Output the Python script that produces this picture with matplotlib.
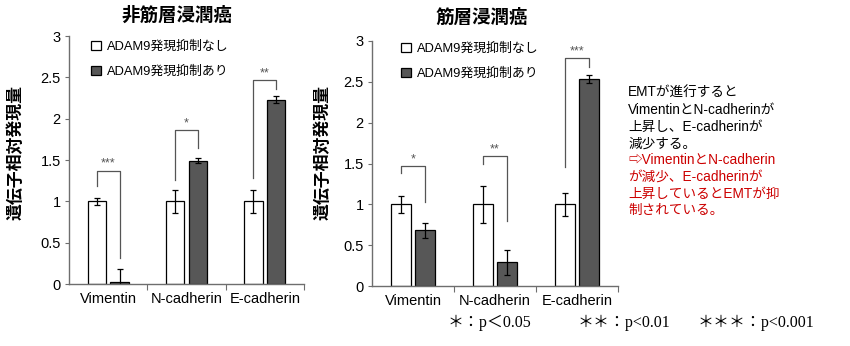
import numpy as np
import matplotlib.pyplot as plt
from matplotlib.patches import Patch

plt.rcParams['font.family'] = ['Liberation Sans', 'Noto Sans CJK JP', 'DejaVu Sans']

categories = ['Vimentin', 'N-cadherin', 'E-cadherin']
series_names = ['ADAM9発現抑制なし', 'ADAM9発現抑制あり']

# 非筋層浸潤癌
nmibc_ctrl = [1.0, 1.0, 1.0]
nmibc_ctrl_err = [0.04, 0.14, 0.14]
nmibc_kd = [0.03, 1.49, 2.23]
nmibc_kd_err = [0.15, 0.03, 0.045]
nmibc_sig = ['***', '*', '**']
nmibc_br_top = [1.37, 1.86, 2.47]
nmibc_br_left = [1.18, 1.26, 1.28]
nmibc_br_right = [0.31, 1.64, 2.36]

# 筋層浸潤癌
mibc_ctrl = [1.0, 1.0, 1.0]
mibc_ctrl_err = [0.10, 0.23, 0.14]
mibc_kd = [0.68, 0.29, 2.53]
mibc_kd_err = [0.09, 0.15, 0.05]
mibc_sig = ['*', '**', '***']
mibc_br_top = [1.47, 1.59, 2.79]
mibc_br_left = [1.38, 1.49, 1.46]
mibc_br_right = [1.03, 0.79, 2.68]

yticks = [0, 0.5, 1, 1.5, 2, 2.5, 3]
ytick_labels = ['0', '0.5', '1', '1.5', '2', '2.5', '3']

note_black = ['EMTが進行すると', 'VimentinとN-cadherinが', '上昇し、E-cadherinが', '減少する。']
note_red = ['⇨VimentinとN-cadherin', 'が減少、E-cadherinが', '上昇しているとEMTが抑', '制されている。']
footnotes = ['＊：p＜0.05', '＊＊：p<0.01', '＊＊＊：p<0.001']

W, H = 850, 346
fig = plt.figure(figsize=(8.5, 3.46), dpi=100)

DARK = '#575757'
SPINE = '#6e6e6e'


def px(x, y):
    return x / W, 1 - y / H


def panel(rect, title, title_xy, ylab_xy, leg_xy, ctrl, ctrl_err, kd, kd_err,
          sig, br_top, br_left, br_right):
    ax = fig.add_axes(rect)
    x = np.arange(len(categories))
    off, bw = 0.145, 0.235
    ax.bar(x - off, ctrl, bw, color='white', edgecolor='black', linewidth=0.9,
           yerr=ctrl_err, error_kw=dict(ecolor='black', elinewidth=0.9, capsize=2.5, capthick=0.9))
    ax.bar(x + off, kd, bw, color=DARK, edgecolor='black', linewidth=0.9,
           yerr=kd_err, error_kw=dict(ecolor='black', elinewidth=0.9, capsize=2.5, capthick=0.9))
    for i in range(len(categories)):
        xl, xr = x[i] - off, x[i] + off
        ax.plot([xl, xl, xr, xr], [br_left[i], br_top[i], br_top[i], br_right[i]],
                color='#555555', lw=0.9, clip_on=False)
        ax.text(x[i], br_top[i] + 0.01, sig[i], ha='center', va='bottom',
                fontsize=9, color='#555555')
    ax.set_xlim(-0.5, 2.5)
    ax.set_ylim(0, 3)
    ax.set_yticks(yticks)
    ax.set_yticklabels(ytick_labels, fontsize=10.5)
    ax.set_xticks([0.5, 1.5, 2.5])
    ax.set_xticklabels([])
    ax.set_xticks(x, minor=True)
    ax.set_xticklabels(categories, minor=True, fontsize=10.5)
    ax.tick_params(axis='x', which='major', length=4, direction='out', color=SPINE)
    ax.tick_params(axis='x', which='minor', length=0, pad=6)
    ax.tick_params(axis='y', length=3, direction='out', color=SPINE, pad=3)
    for s in ['top', 'right']:
        ax.spines[s].set_visible(False)
    for s in ['left', 'bottom']:
        ax.spines[s].set_color(SPINE)
        ax.spines[s].set_linewidth(1.0)
    fig.text(*px(*title_xy), title, ha='center', va='center', fontsize=13.3,
             fontweight='bold', family=['Noto Sans CJK JP'])
    fig.text(*px(*ylab_xy), '遺伝子相対発現量', ha='center', va='center', fontsize=12.2,
             fontweight='bold', rotation=90, family=['Noto Sans CJK JP'])
    handles = [Patch(facecolor='white', edgecolor='black', linewidth=0.9),
               Patch(facecolor=DARK, edgecolor='black', linewidth=0.9)]
    fig.legend(handles, series_names, loc='upper left', bbox_to_anchor=px(*leg_xy),
               frameon=False, fontsize=9.3, handlelength=0.75, handleheight=0.75,
               handletextpad=0.45, labelspacing=0.95, borderpad=0, borderaxespad=0)
    return ax


panel([69 / W, 1 - 284 / H, 235 / W, 248 / H], '非筋層浸潤癌', (177, 15), (15, 152), (91, 41),
      nmibc_ctrl, nmibc_ctrl_err, nmibc_kd, nmibc_kd_err,
      nmibc_sig, nmibc_br_top, nmibc_br_left, nmibc_br_right)
panel([372 / W, 1 - 286 / H, 246 / W, 245 / H], '筋層浸潤癌', (482, 17), (322, 152), (401, 43),
      mibc_ctrl, mibc_ctrl_err, mibc_kd, mibc_kd_err,
      mibc_sig, mibc_br_top, mibc_br_left, mibc_br_right)

# 注釈
lines = note_black + note_red
for i, line in enumerate(lines):
    color = 'black' if i < len(note_black) else '#cc0000'
    fig.text(*px(628, 93.3 + i * 16.7), line, ha='left', va='center', fontsize=9.8,
             color=color, family=['Liberation Sans', 'Noto Sans CJK JP', 'DejaVu Sans'])

for xpos, t in zip([448, 578, 698], footnotes):
    fig.text(*px(xpos, 323), t, ha='left', va='center', fontsize=11.5,
             family=['Liberation Serif', 'Noto Sans CJK JP'])

fig.savefig('out.png', dpi=100)
